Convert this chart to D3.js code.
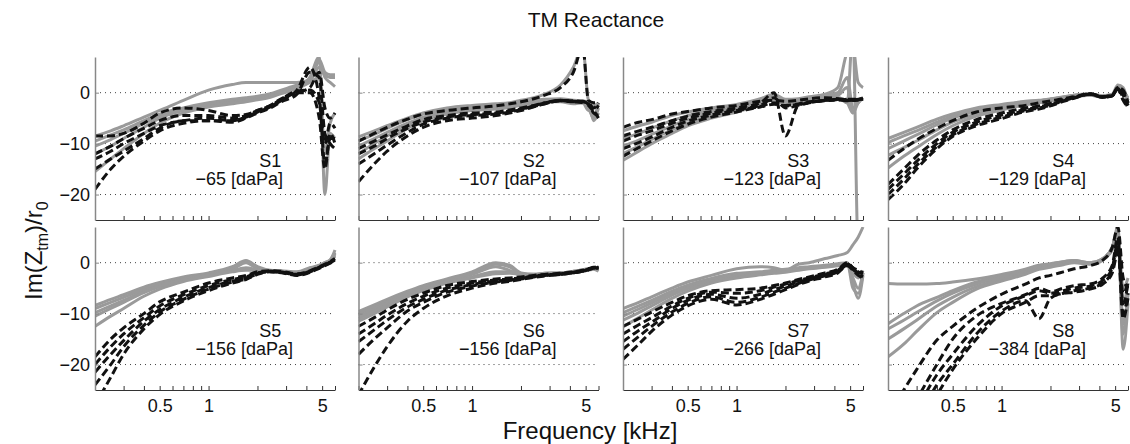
<!DOCTYPE html>
<html><head><meta charset="utf-8">
<script src="https://cdn.jsdelivr.net/npm/d3@7"></script>
<style>body{margin:0;background:#fff}svg{display:block}</style>
</head><body><svg id="chart" width="1130" height="444"></svg>
<script>
// ---------------- data ----------------
const freqs = [0.2, 0.25, 0.3, 0.4, 0.5, 0.7, 1, 1.4, 1.7, 2, 2.4, 2.8, 3.5, 4.2, 4.8, 5.2, 5.6, 6];
const subjects = ["S1", "S2", "S3", "S4", "S5", "S6", "S7", "S8"];
const pressures = ["−65", "−107", "−123", "−129", "−156", "−156", "−266", "−384"];
const xTicks = [0.2, 0.3, 0.4, 0.5, 0.6, 0.7, 0.8, 0.9, 1, 2, 3, 4, 5, 6];
const xTickLabels = [0.5, 1, 5];
const yTicks = [-20, -10, 0];

const grayS1 = [
  [-8.5,-7.5,-6.5,-4.8,-3.5,-1.5,0.5,1.6,2,2,2,2,2,2.5,6,3,2,1.2],
  [-9.5,-8.3,-7.3,-5.5,-4.2,-3,-2,-1.3,-1,-0.7,-0.2,0.5,1.5,2.5,6.5,4,3.5,3.5],
  [-10.5,-9.2,-8,-6,-4.5,-3.2,-2.3,-1.7,-1.4,-1,-0.5,0.2,1.2,2.2,5,3.5,3,3],
  [-12,-10.5,-9,-6.8,-5,-3.5,-2.5,-1.9,-1.6,-1.2,-0.7,0,1,3,7,-20,-8,-9],
  [-15.5,-13,-11,-8,-6,-4,-2.8,-2.2,-1.8,-1.4,-0.9,-0.2,0.8,2,3,-12,-6,-4]
];
const blackS1 = [
  [-8.5,-8.5,-8,-6,-4,-3,-3.5,-4.5,-4.3,-3.5,-2.5,-1.2,0,1,4,-3,-5,-4],
  [-12,-10.5,-9,-7,-5.5,-4.5,-4.5,-5,-4.5,-3.5,-2.6,-1.3,0.3,0.5,-2,-10,-6,-7],
  [-13,-11.5,-10,-8,-6.5,-5.5,-5,-5.5,-4.8,-3.8,-2.8,-1.6,0,0,-5,-15,-8,-10],
  [-15,-13,-11.5,-9,-7,-5.5,-5.5,-5.8,-5,-4,-3,-1.8,-0.3,4,3,-8,-10,-11],
  [-19,-15,-12.5,-9.5,-7.5,-6,-5.5,-5.5,-4.8,-3.8,-2.8,-1.4,0.5,5,-1,-14,-9,-9]
];
const grayS2 = [
  [-8.7,-7.5,-6.5,-5,-4,-3,-2.5,-2.2,-2,-1.5,-1,-0.3,1.5,5,9,-1.5,-2.5,-2],
  [-9.5,-8.2,-7,-5.3,-4.2,-3.2,-2.7,-2.5,-2.3,-2,-1.6,-1.3,-1.2,-1.5,-1.6,-2,-5.5,-4],
  [-10.5,-9,-7.8,-6,-4.8,-3.6,-3,-2.7,-2.5,-2.2,-1.8,-1.5,-1.5,-1.8,-1.8,-2.5,-4.5,-2],
  [-12,-10,-8.5,-6.5,-5.2,-4,-3.3,-3,-2.7,-2.4,-2,-1.6,-1.7,-2,-2,-3,-5,-3],
  [-13,-11,-9.5,-7,-5.5,-4.2,-3.5,-3.2,-2.9,-2.5,-2.1,-1.8,-1.8,-2.2,-2,-3.5,-3,-2.5]
];
const blackS2 = [
  [-9.5,-8,-6.8,-5.2,-4.2,-3.5,-3,-2.6,-2.2,-1.8,-1.2,-0.5,1,4,9,-1.5,-2,-2],
  [-11,-9.5,-8.3,-6.5,-5.3,-4.5,-4,-3.8,-3.4,-3,-2.5,-2,-1.6,-1.8,-1.8,-2,-3,-2],
  [-12,-10.5,-9,-7,-5.8,-4.8,-4.3,-4,-3.6,-3.2,-2.7,-2.2,-1.5,-1.6,-1.7,-2.5,-3.5,-2.5],
  [-14,-12,-10.3,-7.8,-6.2,-5,-4.5,-4.2,-3.8,-3.3,-2.6,-2,-1.5,-1.7,-1.8,-2.2,-4,-4.5],
  [-17.5,-14,-11.5,-8.5,-6.8,-5.5,-5,-4.5,-4,-3.5,-2.8,-2.2,-1.6,-1.8,-2,-2.3,-3.5,-5]
];
const grayS3 = [
  [-7.5,-6.5,-5.8,-4.5,-3.8,-3,-2.3,-1.2,-0.3,-1.3,-1.2,-0.8,-0.3,1,8,9,2,1],
  [-9,-8,-7,-5.5,-4.5,-3.5,-2.8,-1.5,-0.6,-1.6,-1.4,-1,-0.5,0,3,-3,-2,-1],
  [-10.5,-9.3,-8.2,-6.5,-5.3,-4,-3,-1.8,-0.9,-1.8,-1.6,-1.2,-0.8,-0.5,1,-4,-1.5,-1],
  [-12,-10.5,-9.2,-7.3,-6,-4.5,-3.5,-2,-1.1,-2,-1.8,-1.5,-1,-1,-2,12,-30,-30],
  [-13.3,-11.5,-10,-8,-6.5,-5,-3.8,-2.3,-1.4,-2.2,-2,-1.8,-1.2,-1,-2,-4,-2,-1]
];
const blackS3 = [
  [-6.8,-5.8,-5.3,-4.2,-3.7,-3,-2.5,-1.7,-1.5,-1.7,-1.5,-1.2,-1,-1.2,-1.5,-1.5,-1.3,-1.2],
  [-8.5,-7.5,-6.8,-5.5,-4.6,-3.7,-3,-2,0,-8.5,-2.5,-2,-1.5,-1.3,-1.3,-1.3,-1.3,-1.3],
  [-9.5,-8.3,-7.5,-6,-5,-4,-3.3,-2.5,-1,-3,-2.5,-2,-1.5,-1.5,-1.3,-1.5,-1.5,-1.3],
  [-11,-9.8,-8.7,-6.8,-5.6,-4.4,-3.5,-2.7,-2,-2.5,-2.2,-1.8,-1.5,-1.3,-1.5,-1.5,-1.3,-1.2],
  [-12.5,-10.8,-9.5,-7.5,-6.2,-4.8,-3.8,-2.8,-2.3,-2.6,-2.3,-1.9,-1.6,-1.4,-1.6,-1.5,-1.4,-1.3]
];
const grayS4 = [
  [-9,-7.8,-6.8,-5.2,-4.2,-3,-2.3,-1.7,-1.5,-1.2,-0.8,-0.5,-0.2,-0.6,-0.3,1.5,1,-2],
  [-9.8,-8.5,-7.5,-5.8,-4.6,-3.3,-2.5,-1.8,-1.6,-1.3,-0.9,-0.5,-0.3,-0.7,-0.4,1.2,0.8,-2.5],
  [-11,-9.5,-8.3,-6.3,-5,-3.6,-2.7,-1.9,-1.7,-1.4,-1,-0.6,-0.3,-0.8,-0.5,1,0.5,-1.5],
  [-12.3,-10.8,-9.5,-7.3,-5.8,-4.2,-3.1,-2.2,-1.9,-1.6,-1.1,-0.7,-0.4,-0.8,-0.5,0.8,0.5,-1.5],
  [-14.8,-12.5,-10.8,-8.2,-6.5,-4.6,-3.4,-2.4,-2,-1.7,-1.2,-0.8,-0.5,-0.9,-0.6,0.8,0.3,-1]
];
const blackS4 = [
  [-13.3,-11,-9.3,-7,-5.5,-3.8,-3,-2.5,-2,-1.6,-1.2,-0.8,-0.3,-0.8,-0.5,1,0.5,-2],
  [-18,-15,-12.5,-9.3,-7.3,-5.3,-4,-3,-2.6,-2.1,-1.4,-0.9,-0.2,-0.8,-0.5,1,0,-2],
  [-19,-16,-13.5,-10,-7.8,-5.8,-4.4,-3.3,-2.8,-2.3,-1.5,-1,-0.2,-0.8,-0.5,0.8,-0.5,-2.5],
  [-20,-17,-14.3,-10.6,-8.3,-6.2,-4.8,-3.5,-3,-2.5,-1.6,-1,-0.3,-0.9,-0.6,0.8,-1,-3],
  [-21,-18,-15,-11,-8.6,-6.5,-5.1,-3.7,-3.2,-2.6,-1.7,-1.1,-0.3,-0.9,-0.6,0.7,-1.5,-3]
];
const grayS5 = [
  [-8.4,-7.2,-6.3,-4.8,-3.9,-2.8,-2,-0.8,0.4,-0.8,-1.5,-1.6,-1.8,-1,-0.5,0,0.5,2.5],
  [-9,-7.8,-6.8,-5.2,-4.2,-3,-2.2,-1,0.2,-1,-1.6,-1.7,-1.9,-1.1,-0.6,0,0.5,2],
  [-9.8,-8.5,-7.4,-5.6,-4.5,-3.2,-2.3,-1.3,0,-1.2,-1.7,-1.8,-2,-1.2,-0.6,-0.2,0.3,1.8],
  [-10.5,-9,-7.8,-5.9,-4.7,-3.4,-2.5,-1.6,-1,-1.4,-1.7,-1.8,-2,-1.2,-0.7,-0.2,0.3,1.5],
  [-12.5,-10.5,-9,-6.6,-5.2,-3.7,-2.7,-1.8,-1.5,-1.5,-1.8,-1.9,-2.1,-1.3,-0.8,-0.3,0.2,1.3]
];
const blackS5 = [
  [-18.5,-15,-12.8,-10,-7.7,-5.8,-4,-3,-2.5,-1.8,-1.6,-1.7,-2.2,-1.6,-0.8,-0.3,0.2,0.8],
  [-20,-16.5,-14,-10.8,-8.5,-6.3,-4.5,-3.3,-2.8,-2,-1.7,-1.8,-2.3,-1.7,-0.9,-0.4,0.1,0.6],
  [-21.5,-18,-15.3,-11.5,-9.2,-6.8,-4.9,-3.6,-3,-2.1,-1.7,-1.9,-2.4,-1.8,-1,-0.5,0,0.5],
  [-24,-20,-16.5,-12.3,-9.7,-7.2,-5.2,-3.8,-3.2,-2.2,-1.8,-1.9,-2.4,-1.8,-1,-0.5,0,0.5],
  [-28,-22.5,-18,-13,-10.2,-7.5,-5.5,-4,-3.3,-2.3,-1.8,-2,-2.5,-1.9,-1.1,-0.6,-0.1,0.4]
];
const grayS6 = [
  [-9.6,-8.3,-7.2,-5.6,-4.5,-3.2,-1.8,0,-0.5,-2,-2.3,-2.1,-2,-1.7,-1.4,-1.2,-1,-1],
  [-10,-8.7,-7.6,-5.9,-4.7,-3.4,-2,-0.3,-0.8,-2.2,-2.3,-2.1,-2,-1.7,-1.4,-1.2,-1,-1.2],
  [-10.5,-9.1,-7.9,-6.1,-4.9,-3.6,-2.3,-0.8,-1.5,-2.4,-2.4,-2.3,-2.1,-1.8,-1.5,-1.3,-1.1,-1.3],
  [-11,-9.5,-8.3,-6.4,-5.2,-3.8,-2.8,-1.8,-1.8,-2.2,-2.5,-2.4,-2.2,-1.9,-1.6,-1.4,-1.2,-1.5],
  [-11.5,-10,-8.7,-6.7,-5.5,-4,-3,-2.2,-2.1,-2.3,-2.6,-2.5,-2.3,-2,-1.7,-1.5,-1.3,-1.7]
];
const blackS6 = [
  [-12.5,-10.8,-9.3,-7.2,-6,-4.5,-3.7,-3.2,-3,-2.8,-2.5,-2.3,-2.1,-1.8,-1.5,-1.2,-0.9,-0.8],
  [-14,-12,-10.3,-8,-6.6,-5,-4,-3.4,-3.2,-3,-2.6,-2.4,-2.2,-1.9,-1.6,-1.3,-1,-0.9],
  [-15.5,-13.2,-11.3,-8.7,-7.2,-5.4,-4.3,-3.6,-3.4,-3.1,-2.7,-2.5,-2.2,-1.9,-1.6,-1.3,-1,-1],
  [-18,-15,-12.8,-9.5,-7.8,-5.8,-4.6,-3.8,-3.5,-3.2,-2.8,-2.5,-2.3,-2,-1.7,-1.4,-1.1,-1],
  [-26,-20.5,-16.5,-11.5,-9,-6.5,-5,-4,-3.7,-3.3,-2.9,-2.6,-2.3,-2,-1.7,-1.4,-1.1,-1.1]
];
const grayS7 = [
  [-9,-7.8,-6.7,-5,-3.8,-2.5,-1.2,-0.8,-1,-1.5,-0.3,0,0.8,1.4,2,3.5,5,7],
  [-9.8,-8.5,-7.4,-5.6,-4.4,-3.1,-2.1,-1.8,-1.5,-1.3,-1,-0.8,-0.5,-0.2,0,-5,-6,-2],
  [-10.5,-9.1,-7.9,-6,-4.8,-3.4,-2.4,-2,-1.7,-1.5,-1.2,-1,-0.7,-0.4,-0.2,-4,-7,-2.5],
  [-11.3,-9.8,-8.5,-6.4,-5.1,-3.7,-2.7,-2.2,-1.9,-1.7,-1.4,-1.1,-0.8,-0.5,-0.3,-3,-5,-2],
  [-12.6,-10.8,-9.3,-7,-5.6,-4,-3,-2.4,-2.1,-1.9,-1.5,-1.2,-0.9,-0.6,-0.4,-2,-3,-1.5]
];
const blackS7 = [
  [-12.5,-11,-9.7,-7.8,-6.5,-5.5,-5.3,-5,-4.5,-4,-3.3,-2.8,-2,-1.3,0,-1,-1.5,-2],
  [-14,-12.2,-10.8,-8.5,-7,-5.8,-6,-5.5,-4.8,-4.2,-3.5,-3,-2.2,-1.5,-0.2,-1,-1.8,-2.2],
  [-15.5,-13.3,-11.7,-9,-7.4,-6.2,-7,-6.2,-5.3,-4.6,-3.8,-3.2,-2.4,-1.6,-0.3,-1.2,-2,-2.5],
  [-17,-14.5,-12.5,-9.7,-8,-6.7,-7.8,-6.8,-5.8,-5,-4.1,-3.4,-2.6,-1.8,-0.5,-1.3,-2.2,-2.8],
  [-19,-16,-13.5,-10.3,-8.5,-7.2,-8.3,-7.2,-6.2,-5.3,-4.3,-3.6,-2.8,-2,-0.6,-1.5,-2.5,-3]
];
const grayS8 = [
  [-4.1,-4.2,-4.2,-4.1,-3.8,-3.2,-2.3,-1.3,-0.5,-0.2,0.2,0.4,0,0.8,3,7,-17,-8],
  [-12,-10,-8.5,-6.8,-5.5,-3.8,-2.6,-1.5,-0.6,-0.3,0.2,0.4,0,0.8,3,6.5,-12,-6],
  [-13,-11.3,-9.8,-7.5,-6,-4.2,-2.9,-1.8,-0.8,-0.5,0,0.3,-0.1,0.7,3,6,-8,-4],
  [-15,-13,-11.3,-8.5,-6.8,-4.7,-3.3,-2.1,-1.1,-0.7,-0.2,0.2,-0.2,0.6,2.8,6,-14,-6],
  [-18.5,-16,-13.5,-9.8,-7.8,-5.2,-3.6,-2.3,-1.3,-0.9,-0.4,0,-0.3,0.5,2.5,5,-5,-3]
];
const blackS8 = [
  [-30,-25,-21,-15.2,-12.5,-9,-6.2,-4.2,-3,-2.5,-1.8,-1.2,-0.6,0.5,3,7,-3,-5],
  [-38,-32,-27,-20,-15,-10.5,-8,-6.3,-5,-5.7,-5,-4.5,-4.2,-3,-0.5,5,-10,-6],
  [-40,-34,-29,-22,-18,-12.5,-8.5,-6.5,-5.5,-6,-5.5,-5,-4.6,-3.5,-1,4,-8,-4],
  [-42,-36,-31,-24,-20,-14,-9.5,-7.5,-11,-7,-6,-5.5,-5,-4,-1.5,3,-11,-7],
  [-44,-38,-33,-26,-21,-15,-10,-7.8,-6.5,-6.5,-6,-5.8,-5.2,-4.2,-2,2,-6,-4]
];
const grayData = [grayS1, grayS2, grayS3, grayS4, grayS5, grayS6, grayS7, grayS8];
const blackData = [blackS1, blackS2, blackS3, blackS4, blackS5, blackS6, blackS7, blackS8];

// ---------------- layout ----------------
const FONT = "'Liberation Sans', Arial, Helvetica, sans-serif";
const panelW = 240, panelH = 163;
const colLeft = [95, 358.5, 623, 888];
const rowTop = [57, 227];

const svg = d3.select("#chart").style("font-family", FONT);

const x = d3.scaleLog().domain([0.2, 6]).range([0, panelW]);
const y = d3.scaleLinear().domain([-25, 7]).range([panelH, 0]);
const line = d3.line().x((d, i) => x(freqs[i])).y(d => y(d)).curve(d3.curveMonotoneX);

svg.append("text").attr("x", 596).attr("y", 27).attr("text-anchor", "middle")
  .attr("font-size", 21).attr("fill", "#111").text("TM Reactance");

svg.append("text").attr("x", 590).attr("y", 439).attr("text-anchor", "middle")
  .attr("font-size", 24).attr("fill", "#111").text("Frequency [kHz]");

const yl = svg.append("text").attr("transform", "translate(42,300) rotate(-90)")
  .attr("text-anchor", "start").attr("font-size", 24).attr("fill", "#111");
yl.append("tspan").text("Im(Z");
yl.append("tspan").attr("font-size", 16).attr("dy", 6).text("tm");
yl.append("tspan").attr("dy", -6).text(")/r");
yl.append("tspan").attr("font-size", 16).attr("dy", 6).text("0");

subjects.forEach((name, k) => {
  const row = Math.floor(k / 4), col = k % 4;
  const g = svg.append("g").attr("transform", `translate(${colLeft[col]},${rowTop[row]})`);
  g.append("clipPath").attr("id", "clip" + k).append("rect")
    .attr("x", 0).attr("y", 0).attr("width", panelW + 2).attr("height", panelH);

  // grid
  g.selectAll("line.grid").data(yTicks).enter().append("line")
    .attr("x1", 0).attr("x2", panelW).attr("y1", d => y(d)).attr("y2", d => y(d))
    .attr("stroke", "#444").attr("stroke-width", 1).attr("stroke-dasharray", "1,4");

  const lines = g.append("g").attr("clip-path", `url(#clip${k})`);
  lines.selectAll("path.gray").data(grayData[k]).enter().append("path")
    .attr("d", line).attr("fill", "none").attr("stroke", "#9a9a9a").attr("stroke-width", 3);
  lines.selectAll("path.black").data(blackData[k]).enter().append("path")
    .attr("d", line).attr("fill", "none").attr("stroke", "#111").attr("stroke-width", 3)
    .attr("stroke-dasharray", "8,4");

  // axes
  const xAxis = d3.axisBottom(x).tickValues(xTicks).tickSizeInner(-4).tickSizeOuter(0)
    .tickFormat(d => (row === 1 && xTickLabels.includes(d)) ? d3.format("")(d) : "");
  const xa = g.append("g").attr("transform", `translate(0,${panelH})`).call(xAxis);
  xa.select(".domain").attr("stroke", "#333").attr("stroke-width", 1.2);
  xa.selectAll(".tick line").attr("stroke", "#333");
  xa.selectAll(".tick text").attr("font-size", 18).attr("fill", "#111").attr("font-family", FONT).attr("dy", "1.05em");

  const yAxis = d3.axisLeft(y).tickValues(yTicks).tickSizeInner(-4).tickSizeOuter(0)
    .tickFormat(d => col === 0 ? (d < 0 ? "−" + Math.abs(d) : String(d)) : "");
  const ya = g.append("g").call(yAxis);
  ya.select(".domain").attr("stroke", "#888").attr("stroke-width", 1.5);
  ya.selectAll(".tick line").attr("stroke", "#888");
  ya.selectAll(".tick text").attr("font-size", 18).attr("fill", "#111").attr("font-family", FONT).attr("x", -5);

  // annotations
  g.append("text").attr("x", x(2.05)).attr("y", y(-14.6)).attr("font-size", 18)
    .attr("fill", "#111").text(name);
  g.append("text").attr("x", x(0.83)).attr("y", y(-18.2)).attr("font-size", 18)
    .attr("fill", "#111").text(pressures[k] + " [daPa]");
});
</script></body></html>
